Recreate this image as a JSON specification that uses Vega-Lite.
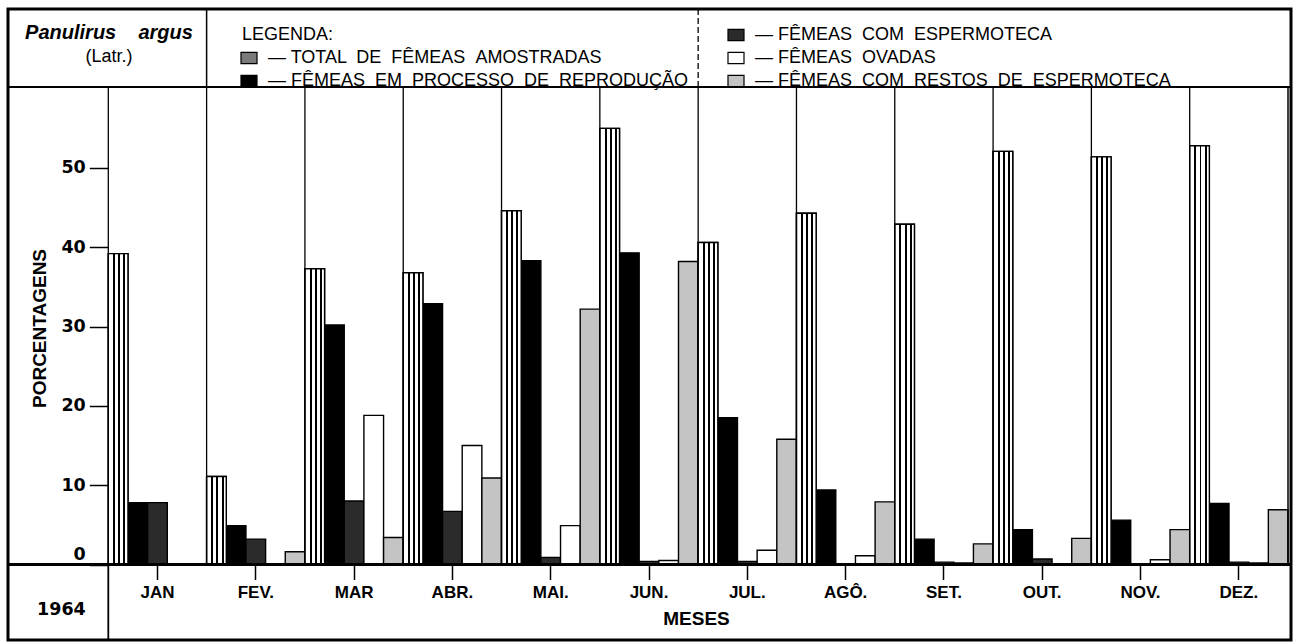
{
  "$schema": "https://vega.github.io/schema/vega-lite/v6.json",
  "width": 1283,
  "height": 631,
  "autosize": {"type": "none"},
  "padding": {"left": 8, "top": 9, "right": 9, "bottom": 3},
  "background": "white",
  "config": {"view": {"stroke": "black", "strokeWidth": 3}, "font": "Liberation Sans"},
  "title": {
    "text": "Panulirus \u00a0\u00a0\u00a0argus",
    "subtitle": "(Latr.)",
    "anchor": "start",
    "frame": "group",
    "align": "center",
    "dx": 101,
    "offset": -58,
    "font": "Liberation Sans",
    "fontSize": 20,
    "fontStyle": "italic",
    "fontWeight": "bold",
    "color": "black",
    "subtitleFont": "Liberation Sans",
    "subtitleFontSize": 18,
    "subtitleColor": "black",
    "subtitlePadding": 5
  },
  "datasets": {
    "dados": [
      {"mes": "JAN", "grupo": "total", "pct": 39.2},
      {"mes": "JAN", "grupo": "reproducao", "pct": 7.8},
      {"mes": "JAN", "grupo": "espermoteca", "pct": 7.8},
      {"mes": "JAN", "grupo": "ovadas", "pct": 0},
      {"mes": "JAN", "grupo": "restos", "pct": 0},
      {"mes": "FEV.", "grupo": "total", "pct": 11.1},
      {"mes": "FEV.", "grupo": "reproducao", "pct": 4.9},
      {"mes": "FEV.", "grupo": "espermoteca", "pct": 3.2},
      {"mes": "FEV.", "grupo": "ovadas", "pct": 0},
      {"mes": "FEV.", "grupo": "restos", "pct": 1.6},
      {"mes": "MAR", "grupo": "total", "pct": 37.3},
      {"mes": "MAR", "grupo": "reproducao", "pct": 30.2},
      {"mes": "MAR", "grupo": "espermoteca", "pct": 8.0},
      {"mes": "MAR", "grupo": "ovadas", "pct": 18.8},
      {"mes": "MAR", "grupo": "restos", "pct": 3.4},
      {"mes": "ABR.", "grupo": "total", "pct": 36.8},
      {"mes": "ABR.", "grupo": "reproducao", "pct": 32.9},
      {"mes": "ABR.", "grupo": "espermoteca", "pct": 6.7},
      {"mes": "ABR.", "grupo": "ovadas", "pct": 15.0},
      {"mes": "ABR.", "grupo": "restos", "pct": 10.9},
      {"mes": "MAI.", "grupo": "total", "pct": 44.6},
      {"mes": "MAI.", "grupo": "reproducao", "pct": 38.3},
      {"mes": "MAI.", "grupo": "espermoteca", "pct": 0.9},
      {"mes": "MAI.", "grupo": "ovadas", "pct": 4.9},
      {"mes": "MAI.", "grupo": "restos", "pct": 32.2},
      {"mes": "JUN.", "grupo": "total", "pct": 55.0},
      {"mes": "JUN.", "grupo": "reproducao", "pct": 39.3},
      {"mes": "JUN.", "grupo": "espermoteca", "pct": 0.4},
      {"mes": "JUN.", "grupo": "ovadas", "pct": 0.5},
      {"mes": "JUN.", "grupo": "restos", "pct": 38.2},
      {"mes": "JUL.", "grupo": "total", "pct": 40.6},
      {"mes": "JUL.", "grupo": "reproducao", "pct": 18.5},
      {"mes": "JUL.", "grupo": "espermoteca", "pct": 0.4},
      {"mes": "JUL.", "grupo": "ovadas", "pct": 1.8},
      {"mes": "JUL.", "grupo": "restos", "pct": 15.8},
      {"mes": "AGÔ.", "grupo": "total", "pct": 44.3},
      {"mes": "AGÔ.", "grupo": "reproducao", "pct": 9.4},
      {"mes": "AGÔ.", "grupo": "espermoteca", "pct": 0},
      {"mes": "AGÔ.", "grupo": "ovadas", "pct": 1.1},
      {"mes": "AGÔ.", "grupo": "restos", "pct": 7.9},
      {"mes": "SET.", "grupo": "total", "pct": 42.9},
      {"mes": "SET.", "grupo": "reproducao", "pct": 3.2},
      {"mes": "SET.", "grupo": "espermoteca", "pct": 0.3},
      {"mes": "SET.", "grupo": "ovadas", "pct": 0.2},
      {"mes": "SET.", "grupo": "restos", "pct": 2.6},
      {"mes": "OUT.", "grupo": "total", "pct": 52.1},
      {"mes": "OUT.", "grupo": "reproducao", "pct": 4.4},
      {"mes": "OUT.", "grupo": "espermoteca", "pct": 0.7},
      {"mes": "OUT.", "grupo": "ovadas", "pct": 0},
      {"mes": "OUT.", "grupo": "restos", "pct": 3.3},
      {"mes": "NOV.", "grupo": "total", "pct": 51.4},
      {"mes": "NOV.", "grupo": "reproducao", "pct": 5.6},
      {"mes": "NOV.", "grupo": "espermoteca", "pct": 0},
      {"mes": "NOV.", "grupo": "ovadas", "pct": 0.6},
      {"mes": "NOV.", "grupo": "restos", "pct": 4.4},
      {"mes": "DEZ.", "grupo": "total", "pct": 52.8},
      {"mes": "DEZ.", "grupo": "reproducao", "pct": 7.7},
      {"mes": "DEZ.", "grupo": "espermoteca", "pct": 0.3},
      {"mes": "DEZ.", "grupo": "ovadas", "pct": 0.2},
      {"mes": "DEZ.", "grupo": "restos", "pct": 6.9}
    ]
  },
  "data": {"name": "dados"},
  "layer": [
    {
      "mark": {"type": "bar", "stroke": "black", "strokeWidth": 1.4},
      "encoding": {
        "x": {
          "field": "mes", "type": "nominal",
          "scale": {"domain": ["JAN", "FEV.", "MAR", "ABR.", "MAI.", "JUN.", "JUL.", "AGÔ.", "SET.", "OUT.", "NOV.", "DEZ."], "paddingInner": 0, "paddingOuter": 0.5254, "align": 0.971},
          "axis": {
            "orient": "bottom", "offset": -75.5, "domain": false, "grid": false,
            "tickSize": 15, "tickWidth": 1.5, "tickColor": "black",
            "labelPadding": 5, "labelFont": "Liberation Sans", "labelFontWeight": "bold", "labelFontSize": 17, "labelColor": "black", "labelAngle": 0,
            "title": "MESES", "titleFont": "Liberation Sans", "titleFontSize": 19, "titleFontWeight": "bold", "titleColor": "black",
            "titleX": 688, "titleY": 53.5, "titleBaseline": "middle", "titleAlign": "center"
          }
        },
        "xOffset": {
          "field": "grupo", "type": "nominal",
          "scale": {"domain": ["total", "reproducao", "espermoteca", "ovadas", "restos"], "paddingInner": 0, "paddingOuter": 0}
        },
        "y": {
          "field": "pct", "type": "quantitative", "stack": null,
          "scale": {"domain": [-9.52, 70.05], "nice": false, "zero": false},
          "axis": {
            "values": [-5.7, 0, 10, 20, 30, 40, 50],
            "labelExpr": "datum.value < 0 ? '1964' : datum.label",
            "offset": -100.3, "domain": false, "grid": false,
            "tickSize": 19, "tickWidth": 1.5, "tickColor": "black",
            "tickOpacity": {"condition": {"test": "datum.value < 0", "value": 0}, "value": 1},
            "labelOffset": {"condition": {"test": "datum.value == 0", "value": -10}, "value": 0},
            "labelPadding": 4, "labelFont": "DejaVu Sans", "labelFontWeight": "bold", "labelFontSize": 17.5, "labelColor": "black",
            "labelOverlap": false, "labelFlush": false, "labelBound": false,
            "title": "PORCENTAGENS", "titleFont": "Liberation Sans", "titleFontSize": 19, "titleFontWeight": "bold", "titleColor": "black",
            "titleX": -69, "titleY": 319, "titleAngle": -90, "titleAlign": "center", "titleBaseline": "middle"
          }
        },
        "y2": {"datum": 0},
        "color": {
          "field": "grupo", "type": "nominal",
          "scale": {
            "domain": ["legenda", "total", "reproducao", "espermoteca", "ovadas", "restos"],
            "range": ["#ffffff", "#7a7a7a", "#000000", "#2b2b2b", "#ffffff", "#c4c4c4"]
          },
          "legend": {
            "orient": "none", "legendX": 232, "legendY": 17, "columns": 2, "columnPadding": 36, "rowPadding": 5,
            "values": ["legenda", "total", "reproducao", "espermoteca", "ovadas", "restos"],
            "title": null,
            "symbolType": "M-1,-0.7H1V0.7H-1Z", "symbolSize": 256, "symbolStrokeColor": "black", "symbolStrokeWidth": 1.2,
            "labelFont": "Liberation Sans", "labelFontSize": 18, "labelColor": "black", "labelLimit": 700, "labelOffset": 10,
            "labelExpr": "datum.value == 'legenda' ? 'LEGENDA:' : datum.value == 'total' ? '— TOTAL \u00a0DE \u00a0FÊMEAS \u00a0AMOSTRADAS' : datum.value == 'reproducao' ? '— FÊMEAS \u00a0EM \u00a0PROCESSO \u00a0DE \u00a0REPRODUÇÃO' : datum.value == 'espermoteca' ? '— FÊMEAS \u00a0COM \u00a0ESPERMOTECA' : datum.value == 'ovadas' ? '— FÊMEAS \u00a0OVADAS' : '— FÊMEAS \u00a0COM \u00a0RESTOS \u00a0DE \u00a0ESPERMOTECA'",
            "encode": {
              "symbols": {"update": {"opacity": {"signal": "datum.value === 'legenda' ? 0 : 1"}}},
              "labels": {"update": {"dx": {"signal": "datum.value === 'legenda' ? -26 : 0"}}}
            }
          }
        }
      }
    },
    {
      "transform": [{"filter": "datum.grupo == 'total'"}],
      "mark": {
        "type": "bar", "stroke": "black", "strokeWidth": 1.4,
        "fill": {
          "gradient": "linear", "x1": 0, "y1": 0, "x2": 1, "y2": 0,
          "stops": [
            {"offset": 0, "color": "#ffffff"},
            {"offset": 0.24, "color": "#ffffff"},
            {"offset": 0.24, "color": "#000000"},
            {"offset": 0.34, "color": "#000000"},
            {"offset": 0.34, "color": "#ffffff"},
            {"offset": 0.5, "color": "#ffffff"},
            {"offset": 0.5, "color": "#000000"},
            {"offset": 0.6, "color": "#000000"},
            {"offset": 0.6, "color": "#ffffff"},
            {"offset": 0.76, "color": "#ffffff"},
            {"offset": 0.76, "color": "#000000"},
            {"offset": 0.86, "color": "#000000"},
            {"offset": 0.86, "color": "#ffffff"},
            {"offset": 1, "color": "#ffffff"}
          ]
        }
      },
      "encoding": {
        "x": {"field": "mes", "type": "nominal"},
        "xOffset": {"field": "grupo", "type": "nominal"},
        "y": {"field": "pct", "type": "quantitative", "stack": null},
        "y2": {"datum": 0}
      }
    },
    {
      "transform": [{"filter": "datum.grupo == 'total'"}],
      "mark": {"type": "rule", "color": "black", "strokeWidth": 1.3},
      "encoding": {
        "x": {"field": "mes", "type": "nominal", "bandPosition": 0},
        "y": {"datum": 0},
        "y2": {"datum": 60.2}
      }
    },
    {
      "transform": [{"filter": "datum.grupo == 'total' && datum.mes == 'DEZ.'"}],
      "mark": {"type": "rule", "color": "black", "strokeWidth": 1.5},
      "encoding": {
        "x": {"field": "mes", "type": "nominal", "bandPosition": 1},
        "y": {"datum": 0},
        "y2": {"datum": 60.2}
      }
    },
    {
      "transform": [{"filter": "datum.grupo == 'total' && datum.mes == 'JAN'"}],
      "mark": {"type": "rule", "color": "black", "strokeWidth": 1.8},
      "encoding": {
        "x": {"field": "mes", "type": "nominal", "bandPosition": 0},
        "y": {"datum": -9.52},
        "y2": {"datum": 0}
      }
    },
    {
      "transform": [{"filter": "datum.grupo == 'total' && datum.mes == 'FEV.'"}],
      "mark": {"type": "rule", "color": "black", "strokeWidth": 1.5},
      "encoding": {
        "x": {"field": "mes", "type": "nominal", "bandPosition": 0},
        "y": {"datum": 60.2},
        "y2": {"datum": 70.05}
      }
    },
    {
      "transform": [{"filter": "datum.grupo == 'total' && datum.mes == 'JUL.'"}],
      "mark": {"type": "rule", "color": "black", "strokeWidth": 1.3, "strokeDash": [6, 3]},
      "encoding": {
        "x": {"field": "mes", "type": "nominal", "bandPosition": 0},
        "y": {"datum": 60.2},
        "y2": {"datum": 70.05}
      }
    },
    {
      "mark": {"type": "rule", "color": "black", "strokeWidth": 2},
      "encoding": {"y": {"datum": 0}}
    },
    {
      "mark": {"type": "rule", "color": "black", "strokeWidth": 2},
      "encoding": {"y": {"datum": 60.2}}
    }
  ]
}
